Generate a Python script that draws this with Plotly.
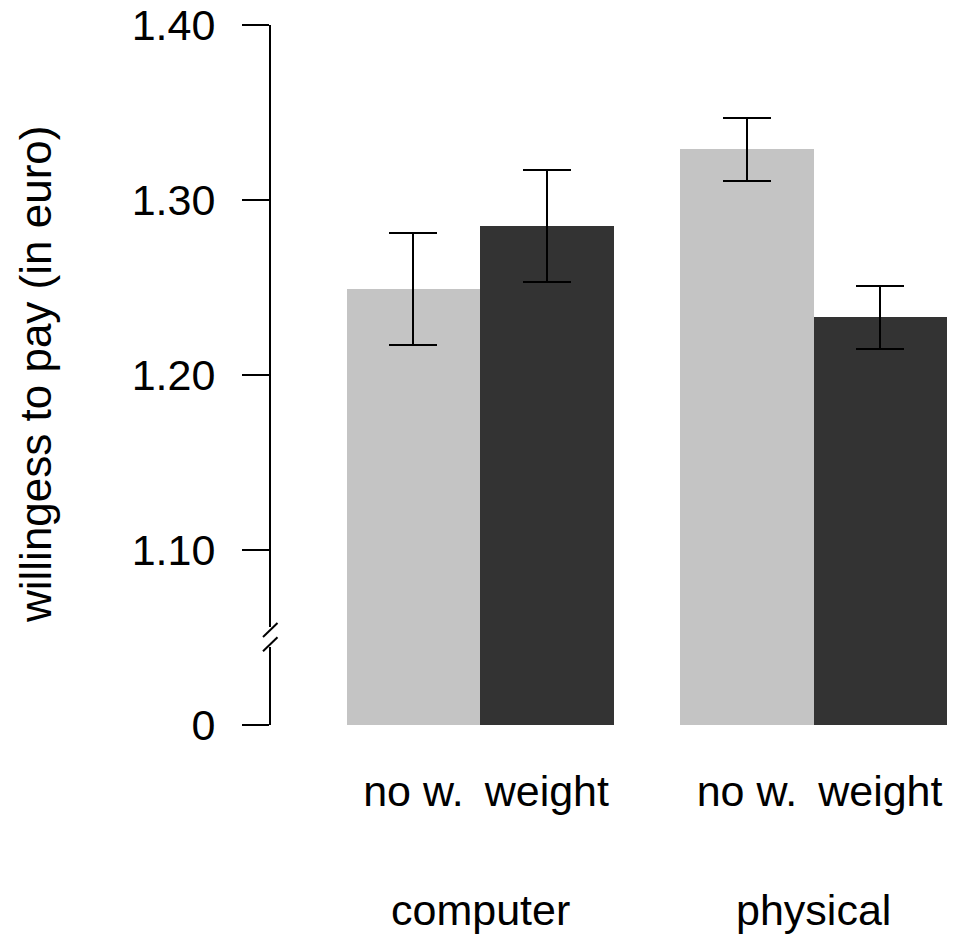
import plotly.graph_objects as go

# ---- data ----
groups = ["computer", "physical"]
conditions = ["no w.", "weight"]
wtp_no_weight = [1.249, 1.329]
wtp_weight = [1.285, 1.233]
se_no_weight = [0.032, 0.018]
se_weight = [0.032, 0.018]
y_tickvals = [1.00, 1.10, 1.20, 1.30, 1.40]
y_ticktext = ["0", "1.10", "1.20", "1.30", "1.40"]
y_title = "willingess to pay (in euro)"

# ---- layout constants ----
W, H = 959, 934
ML, MR, MT, MB = 270, 12, 25, 209
FONT = "Liberation Sans, Arial, Helvetica, sans-serif"
FS = 43
LIGHT = "#c4c4c4"
DARK = "#333333"
LEFT_PAD = 0.575   # gap between axis and first bar, in bar widths
GROUP_STEP = 2.5   # two bars + half-bar gap
Y_MIN, Y_MAX = 1.00, 1.40

def centers(within):
    return [g * GROUP_STEP + LEFT_PAD + within + 0.5 for g in range(len(groups))]

x_nw = centers(0)
x_w = centers(1)
x_max = (len(groups) - 1) * GROUP_STEP + LEFT_PAD + 2

fig = go.Figure()
err_style = dict(type="data", color="black", thickness=2, width=24, visible=True)
fig.add_trace(go.Bar(x=x_nw, y=wtp_no_weight, width=1, marker=dict(color=LIGHT, line=dict(width=0)),
                     error_y=dict(array=se_no_weight, **err_style), name=conditions[0], showlegend=False))
fig.add_trace(go.Bar(x=x_w, y=wtp_weight, width=1, marker=dict(color=DARK, line=dict(width=0)),
                     error_y=dict(array=se_weight, **err_style), name=conditions[1], showlegend=False))

tick_x = []
tick_t = []
for g in range(len(groups)):
    tick_x += [x_nw[g], x_w[g]]
    tick_t += conditions

plot_w = W - ML - MR
plot_h = H - MT - MB
px_x = 1.0 / plot_w          # one pixel in paper-x
px_y = (Y_MAX - Y_MIN) / plot_h  # one pixel in y data units

# broken y axis line
brk_hi = Y_MIN + 98 * px_y
brk_lo = Y_MIN + 78 * px_y
shapes = [
    dict(type="line", xref="paper", yref="y", x0=0, x1=0, y0=brk_hi, y1=Y_MAX, line=dict(color="black", width=2)),
    dict(type="line", xref="paper", yref="y", x0=0, x1=0, y0=Y_MIN, y1=brk_lo, line=dict(color="black", width=2)),
]
mid = Y_MIN + 88 * px_y
for off in (7 * px_y, -7.2 * px_y):
    shapes.append(dict(type="line", xref="paper", yref="y",
                       x0=-7 * px_x, x1=7.5 * px_x,
                       y0=mid + off - 7 * px_y, y1=mid + off + 7 * px_y,
                       line=dict(color="black", width=2)))

annotations = [
    dict(text=y_title, textangle=-90, xref="paper", yref="paper", x=(35 - ML) * px_x, y=0.5,
         xanchor="center", yanchor="middle", showarrow=False, font=dict(family=FONT, size=FS + 1, color="black"))
]
for g, name in enumerate(groups):
    annotations.append(dict(text=name, xref="x", yref="paper", x=(x_nw[g] + x_w[g]) / 2,
                            y=-(910 - (MT + plot_h)) / plot_h, xanchor="center", yanchor="middle",
                            showarrow=False, font=dict(family=FONT, size=FS, color="black")))

fig.update_layout(
    width=W, height=H,
    margin=dict(l=ML, r=MR, t=MT, b=MB, pad=0, autoexpand=False),
    plot_bgcolor="white", paper_bgcolor="white",
    font=dict(family=FONT, size=FS, color="black"),
    xaxis=dict(range=[0, x_max], tickvals=tick_x, ticktext=tick_t, showline=False, showgrid=False,
               zeroline=False, ticks="", ticklabelstandoff=37, automargin=False,
               tickfont=dict(family=FONT, size=FS, color="black")),
    yaxis=dict(range=[Y_MIN, Y_MAX], tickvals=y_tickvals, ticktext=y_ticktext, showline=False, showgrid=False,
               zeroline=False, ticks="outside", ticklen=27, tickwidth=2, tickcolor="black", automargin=False,
               ticklabelstandoff=18, tickfont=dict(family=FONT, size=FS, color="black")),
    shapes=shapes,
    annotations=annotations,
    bargap=0,
)

fig.write_html("out.html")
